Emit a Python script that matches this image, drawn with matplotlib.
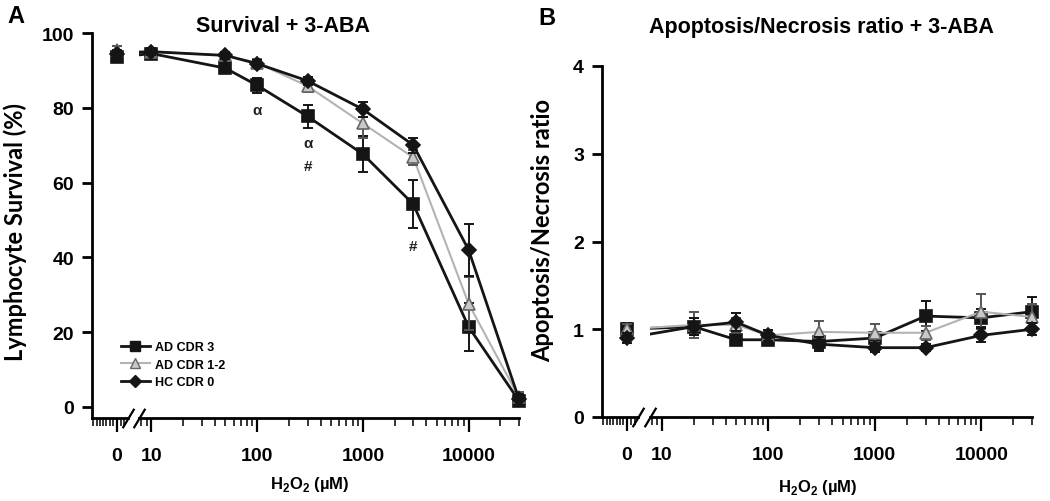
import matplotlib
matplotlib.use("Agg")
import matplotlib.pyplot as plt
import numpy as np
from matplotlib.patches import Rectangle
from matplotlib.lines import Line2D
from matplotlib.ticker import FixedLocator, FixedFormatter, NullFormatter

plt.rcParams['font.family'] = ['Liberation Sans', 'DejaVu Sans']
plt.rcParams['font.weight'] = 'bold'
plt.rcParams['mathtext.fontset'] = 'custom'
plt.rcParams['mathtext.bf'] = 'Liberation Sans:bold'
plt.rcParams['mathtext.rm'] = 'Liberation Sans:bold'

# ---------------- data ----------------
series_names = ["AD CDR 3", "AD CDR 1-2", "HC CDR 0"]

x_survival = [0, 10, 50, 100, 300, 1000, 3000, 10000, 30000]
surv_ad3 = [93.5, 94.5, 90.6, 86.0, 77.7, 67.6, 54.2, 21.4, 1.6]
surv_ad3_err = [1.2, 1.0, 1.0, 2.0, 3.0, 4.8, 6.5, 6.5, 1.5]
surv_ad12 = [95.5, 95.0, 94.0, 92.0, 85.8, 75.8, 66.7, 27.6, 2.5]
surv_ad12_err = [1.0, 1.0, 1.0, 1.0, 1.5, 4.0, 2.0, 7.0, 1.5]
surv_hc = [94.5, 95.0, 94.0, 91.8, 87.2, 79.6, 70.0, 42.0, 2.0]
surv_hc_err = [1.0, 1.0, 1.0, 1.0, 1.0, 2.0, 2.0, 7.0, 1.5]

x_ratio = [0, 20, 50, 100, 300, 1000, 3000, 10000, 30000]
ratio_ad3 = [1.00, 1.03, 0.88, 0.88, 0.86, 0.90, 1.15, 1.13, 1.20]
ratio_ad3_err = [0.07, 0.10, 0.05, 0.06, 0.08, 0.07, 0.17, 0.10, 0.17]
ratio_ad12 = [1.00, 1.05, 1.05, 0.93, 0.97, 0.96, 0.96, 1.20, 1.14]
ratio_ad12_err = [0.06, 0.15, 0.08, 0.06, 0.12, 0.10, 0.08, 0.20, 0.15]
ratio_hc = [0.90, 1.03, 1.08, 0.93, 0.83, 0.79, 0.79, 0.93, 1.00]
ratio_hc_err = [0.06, 0.10, 0.10, 0.06, 0.08, 0.05, 0.04, 0.08, 0.07]

xtick_values = [0, 10, 100, 1000, 10000]
xtick_labels = ["0", "10", "100", "1000", "10000"]

annotations_A = [(100, 79.4, "α"), (300, 70.5, "α"), (300, 64.3, "#"), (3000, 43.0, "#")]

# ---------------- style ----------------
ZERO_POS = 4.7      # where the "0" dose sits on the broken log axis
XMIN, XMAX = 2.74, 30000
BREAK_LO, BREAK_HI = 6.0, 7.7
DARK = "#151515"
styles = [
    dict(marker="s", ms=8.5, mfc=DARK, mec=DARK, lc=DARK, lw=2.0, ec=DARK, z=3),
    dict(marker="^", ms=9, mfc="#c9c9c9", mec="#666666", lc="#b3b3b3", lw=1.5, ec="#555555", z=4),
    dict(marker="D", ms=7.5, mfc=DARK, mec=DARK, lc=DARK, lw=2.0, ec=DARK, z=5),
]

fig = plt.figure(figsize=(10.5, 5.02), dpi=100)
W, H = 1050, 502


def px_axes(left, top, right, bottom):
    return fig.add_axes([left / W, 1 - bottom / H, (right - left) / W, (bottom - top) / H])


def to_plot_x(x):
    x = np.asarray(x, dtype=float)
    return np.where(x == 0, ZERO_POS, x)


def draw_panel(ax, x, ys, errs, ylim, yticks):
    xp = to_plot_x(x)
    ax.set_xscale("log")
    for y, e, st in zip(ys, errs, styles):
        line, = ax.plot(xp, y, color=st["lc"], lw=st["lw"], zorder=st["z"])
        clip = Rectangle((BREAK_HI, -0.5), 1e7, 2.0, transform=ax.get_xaxis_transform())
        line.set_clip_path(clip)
        ax.errorbar(xp, y, yerr=e, fmt="none", ecolor=st["ec"], elinewidth=1.4,
                    capsize=3.5, capthick=1.4, zorder=st["z"], clip_on=False)
        ax.plot(xp, y, ls="none", marker=st["marker"], ms=st["ms"], mfc=st["mfc"],
                mec=st["mec"], mew=1.2, zorder=st["z"] + 0.5, clip_on=False)
    ax.set_xlim(XMIN, XMAX)
    ax.set_ylim(*ylim)
    ax.set_yticks(yticks)
    ax.set_yticklabels([str(v) for v in yticks])
    for s in ("top", "right", "bottom"):
        ax.spines[s].set_visible(False)
    ax.spines["left"].set_linewidth(2.0)
    ax.tick_params(axis="y", length=7, width=2.0, pad=6, labelsize=14)

    # x axis with break
    tr = ax.get_xaxis_transform()
    ax.plot([XMIN, BREAK_LO], [0, 0], transform=tr, color="k", lw=2.0, clip_on=False, zorder=6)
    ax.plot([BREAK_HI, XMAX], [0, 0], transform=tr, color="k", lw=2.0, clip_on=False, zorder=6)
    slash = [(-0.6, -1.0), (0.6, 1.0)]
    ax.plot([BREAK_LO, BREAK_HI], [0, 0], transform=tr, ls="none", marker=slash, ms=14,
            mec="k", mew=1.6, clip_on=False, zorder=6)

    major = list(to_plot_x(xtick_values))
    ax.xaxis.set_major_locator(FixedLocator(major))
    ax.xaxis.set_major_formatter(FixedFormatter(xtick_labels))
    dense = list(np.geomspace(XMIN * 1.03, ZERO_POS * 0.92, 7))
    minor = dense + [5.15, 5.55, 8, 9]
    for d in (10, 100, 1000):
        minor += [k * d for k in range(2, 10)]
    minor += [20000, 30000]
    ax.xaxis.set_minor_locator(FixedLocator(minor))
    ax.xaxis.set_minor_formatter(NullFormatter())
    ax.tick_params(axis="x", which="major", length=10, width=1.6, pad=11, labelsize=14)
    ax.tick_params(axis="x", which="minor", length=6, width=1.1)


# ---------------- panel A ----------------
axA = px_axes(92, 34, 519, 419)
draw_panel(axA, x_survival, [surv_ad3, surv_ad12, surv_hc],
           [surv_ad3_err, surv_ad12_err, surv_hc_err], (-3, 100), [0, 20, 40, 60, 80, 100])
for xv, yv, t in annotations_A:
    axA.text(xv, yv, t, ha="center", va="center", fontsize=11, fontweight="bold", color="#222222")

handles = [Line2D([], [], color=st["lc"], lw=st["lw"], marker=st["marker"], ms=st["ms"] * 0.85,
                  mfc=st["mfc"], mec=st["mec"]) for st in styles]
axA.legend(handles, series_names, loc="upper left", bbox_to_anchor=(121 / W, 1 - 342 / H),
           bbox_transform=fig.transFigure, frameon=False, fontsize=9, handlelength=2.3,
           handletextpad=0.4, labelspacing=0.45, borderpad=0, borderaxespad=0)

# ---------------- panel B ----------------
axB = px_axes(602, 67, 1032, 418)
draw_panel(axB, x_ratio, [ratio_ad3, ratio_ad12, ratio_hc],
           [ratio_ad3_err, ratio_ad12_err, ratio_hc_err], (0, 4), [0, 1, 2, 3, 4])

# ---------------- texts ----------------
fig.text(7 / W, 1 - 23 / H, "A", fontsize=17, fontweight="bold", va="baseline")
fig.text(538 / W, 1 - 25 / H, "B", fontsize=17, fontweight="bold", va="baseline")
fig.text(283 / W, 1 - 32 / H, "Survival + 3-ABA", fontsize=15.5, fontweight="bold",
         ha="center", va="baseline")
fig.text(821 / W, 1 - 33 / H, "Apoptosis/Necrosis ratio + 3-ABA", fontsize=15.5,
         fontweight="bold", ha="center", va="baseline")
ylab_font = ['Lato', 'DejaVu Sans']
fig.text(15 / W, 1 - 232 / H, "Lymphocyte Survival (%)", rotation=90, fontsize=17,
         fontweight="bold", family=ylab_font, ha="center", va="center")
fig.text(543 / W, 1 - 231 / H, "Apoptosis/Necrosis ratio", rotation=90, fontsize=17,
         fontweight="bold", family=ylab_font, ha="center", va="center")
xlab = r"H$_\mathbf{2}$O$_\mathbf{2}$ (µM)"
fig.text(310 / W, 1 - 485 / H, xlab, fontsize=12, fontweight="bold", ha="center", va="center")
fig.text(818 / W, 1 - 488 / H, xlab, fontsize=12, fontweight="bold", ha="center", va="center")

fig.savefig("out.png", dpi=100)
